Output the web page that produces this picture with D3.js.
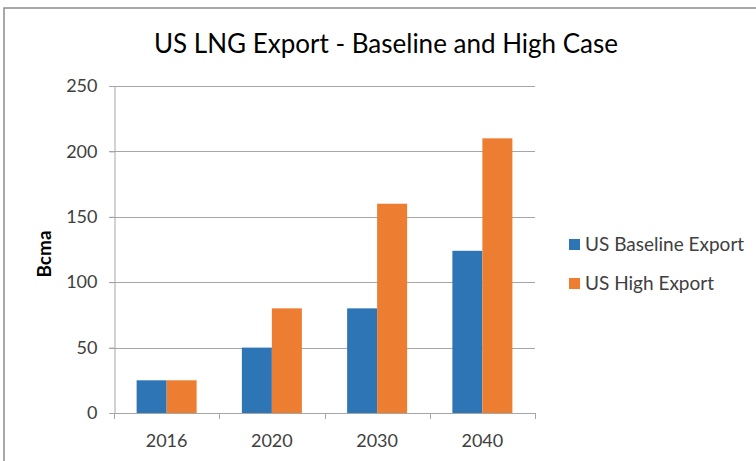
<!DOCTYPE html>
<html>
<head>
<meta charset="utf-8">
<script src="https://cdn.jsdelivr.net/npm/d3@7"></script>
<style>
  html, body { margin: 0; padding: 0; background: #fff; }
  svg { display: block; }
  text { font-family: Lato, "Open Sans", sans-serif; }
</style>
</head>
<body>
<svg id="chart" width="756" height="461"></svg>
<script>
// Years on the category axis
const categories = ["2016", "2020", "2030", "2040"];
// Export volumes, Bcma
const baselineExport = [25, 50, 80, 124];
const highExport = [25, 80, 160, 210];
const seriesNames = ["US Baseline Export", "US High Export"];
const seriesColors = ["#2e75b6", "#ed7d31"];
const yTicks = [0, 50, 100, 150, 200, 250];

const svg = d3.select("#chart");
const W = 756, H = 461;

// outer frame (top and left edges visible)
svg.append("path")
  .attr("d", `M4,${H} L4,8 L${W},8`)
  .attr("fill", "none")
  .attr("stroke", "#8c8c8c")
  .attr("stroke-width", 1.5);

const plot = { left: 114, right: 535, top: 86, bottom: 413 };

const x = d3.scaleBand()
  .domain(categories)
  .range([plot.left, plot.right])
  .paddingInner(0.43)
  .paddingOuter(0.215);

const xSub = d3.scaleBand()
  .domain(seriesNames)
  .range([0, x.bandwidth()]);

const y = d3.scaleLinear()
  .domain([0, 250])
  .range([plot.bottom, plot.top]);

// gridlines
svg.append("g")
  .selectAll("line")
  .data(yTicks.filter(t => t > 0))
  .join("line")
  .attr("x1", plot.left - 5)
  .attr("x2", plot.right)
  .attr("y1", d => Math.round(y(d)) + 0.5)
  .attr("y2", d => Math.round(y(d)) + 0.5)
  .attr("stroke", "#a6a6a6")
  .attr("stroke-width", 1);

// bars
const rows = categories.map((c, i) => ({ c, vals: [baselineExport[i], highExport[i]] }));
const groups = svg.append("g")
  .selectAll("g")
  .data(rows)
  .join("g")
  .attr("transform", d => `translate(${x(d.c)},0)`);

groups.selectAll("rect")
  .data(d => d.vals.map((v, k) => ({ v, k })))
  .join("rect")
  .attr("x", d => xSub(seriesNames[d.k]))
  .attr("width", xSub.bandwidth())
  .attr("y", d => y(d.v))
  .attr("height", d => y(0) - y(d.v))
  .attr("fill", d => seriesColors[d.k]);

// y axis
const yAxis = svg.append("g")
  .attr("transform", `translate(${plot.left + 0.5},0)`)
  .call(d3.axisLeft(y).tickValues(yTicks).tickSize(5).tickPadding(12));
yAxis.select(".domain").attr("stroke", "#a6a6a6");
yAxis.selectAll(".tick line").attr("stroke", "#a6a6a6");
yAxis.selectAll(".tick text")
  .attr("fill", "#404040")
  .style("font-size", "18px")
  .style("font-family", "Lato, 'Open Sans', sans-serif");

// x axis with tick marks at category boundaries
const xAxisG = svg.append("g");
xAxisG.append("line")
  .attr("x1", plot.left).attr("x2", plot.right)
  .attr("y1", plot.bottom + 0.5).attr("y2", plot.bottom + 0.5)
  .attr("stroke", "#a6a6a6");
xAxisG.selectAll("line.b")
  .data(d3.range(categories.length + 1))
  .join("line")
  .attr("class", "b")
  .attr("x1", i => Math.round(plot.left + i * x.step()) + 0.5)
  .attr("x2", i => Math.round(plot.left + i * x.step()) + 0.5)
  .attr("y1", plot.bottom)
  .attr("y2", plot.bottom + 6)
  .attr("stroke", "#a6a6a6");
xAxisG.selectAll("text")
  .data(categories)
  .join("text")
  .attr("x", d => x(d) + x.bandwidth() / 2)
  .attr("y", 447)
  .attr("text-anchor", "middle")
  .attr("fill", "#404040")
  .style("font-size", "18px")
  .text(d => d);

// y axis title
svg.append("text")
  .attr("transform", `translate(51,254) rotate(-90)`)
  .attr("text-anchor", "middle")
  .attr("fill", "#000")
  .style("font-size", "19px")
  .style("font-weight", "bold")
  .text("Bcma");

// chart title
svg.append("text")
  .attr("x", 386)
  .attr("y", 53)
  .attr("text-anchor", "middle")
  .attr("fill", "#000")
  .style("font-size", "26px")
  .text("US LNG Export - Baseline and High Case");

// legend
const legend = svg.append("g")
  .selectAll("g")
  .data(seriesNames)
  .join("g")
  .attr("transform", (d, i) => `translate(569,${239 + i * 39})`);
legend.append("rect")
  .attr("width", 11).attr("height", 11)
  .attr("fill", (d, i) => seriesColors[i]);
legend.append("text")
  .attr("x", 16).attr("y", 12)
  .attr("fill", "#404040")
  .style("font-size", "19px")
  .text(d => d);
</script>
</body>
</html>
